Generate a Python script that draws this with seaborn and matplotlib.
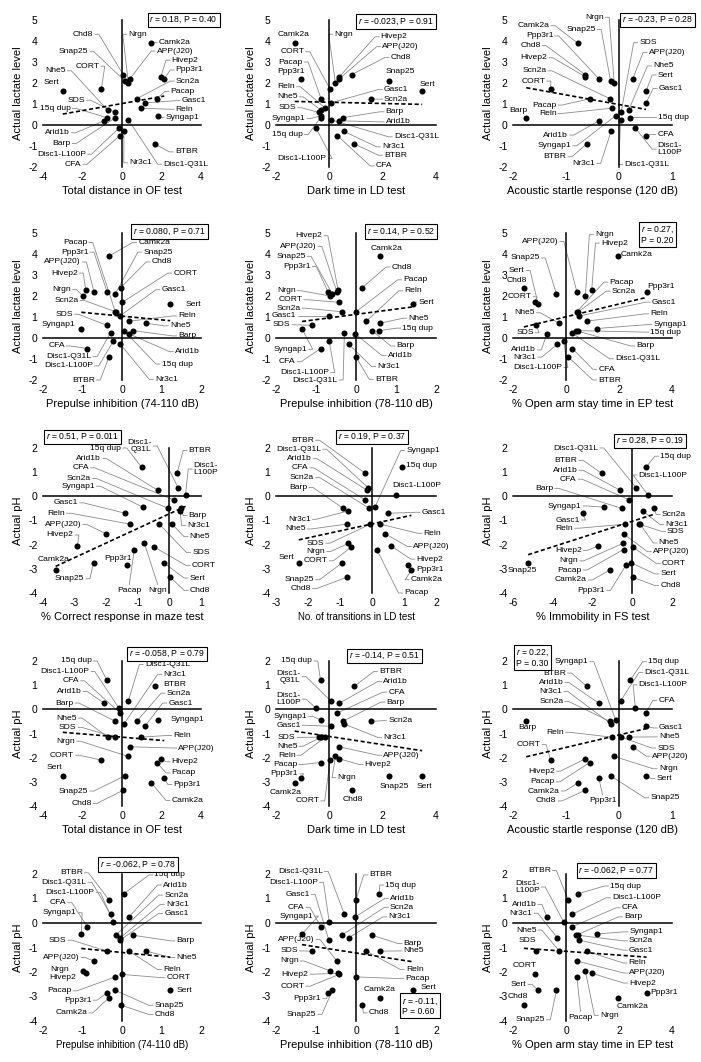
import numpy as np
import pandas as pd
import matplotlib
matplotlib.use("Agg")
import matplotlib.pyplot as plt
import seaborn as sns

# ---------------- data ----------------
STRAINS = ["15q dup", "APP(J20)", "Arid1b", "BTBR", "Barp", "CFA", "CORT", "Camk2a",
           "Chd8", "Disc1-L100P", "Disc1-Q31L", "Gasc1", "Hivep2", "Nhe5", "Nr3c1",
           "Nrgn", "Pacap", "Ppp3r1", "Reln", "SDS", "Scn2a", "Sert", "Snap25", "Syngap1"]

LACTATE = [0.35, 2.2, 0.2, -0.9, 0.35, -0.5, 1.7, 3.9, 2.4, -0.15, 0.25, 1.05, 2.3, 0.7,
           -0.3, 2.0, 1.25, 2.2, 0.8, 0.6, 1.25, 1.6, 2.1, 0.45]
PH = [1.2, -1.55, 0.25, 0.95, -0.5, -0.15, -2.1, -3.05, -3.35, 0.05, 0.35, -0.7, -2.05,
      -1.15, -0.6, -1.95, -2.2, -2.85, -1.15, -1.15, -0.5, -2.75, -2.75, -0.45]

OF_DIST = [-0.77, 0.4, -0.9, 1.65, -0.33, -0.1, -1.05, 1.49, 0.06, -0.16, 0.32, 1.16, 1.97,
           -0.72, 0.1, 0.32, 1.76, 2.14, 0.98, -0.35, 0.74, -3.0, 0.14, 1.81]
LD_DARK = [-0.33, 0.37, 0.37, 0.93, 0.5, 0.3, 0.03, -1.3, 0.84, -0.5, 0.05, 0.05, 0.38,
           -0.3, 0.54, 0.23, -0.31, -1.07, -0.15, -0.4, 1.55, 3.48, 2.25, -0.3]
ASR = [0.21, 0.26, -0.38, -0.61, -1.75, 0.51, -1.29, -0.78, -0.64, 0.31, 0.03, 0.51, -0.64,
       0.18, -0.15, -0.09, -0.55, -0.38, -0.14, 0.04, -0.17, 0.51, -0.16, -0.06]
PPI74 = [0.05, -0.71, 0.18, -0.33, 0.28, -0.88, 0.01, -0.33, -0.03, -0.22, -0.29, -0.05,
         -0.92, 0.62, -0.04, -0.99, -0.17, -0.38, 0.18, -0.38, -0.16, 1.22, -0.17, -1.03]
PPI78 = [0.58, -0.48, -0.02, 0.0, 0.4, -0.88, -0.42, 0.59, 0.16, -0.67, -0.29, -0.68, -0.45,
         0.59, -0.18, -0.65, 0.0, -0.7, 0.26, -1.11, -0.36, 1.43, -0.59, -1.35]
EP_OPEN = [0.47, 0.41, -0.72, 0.08, 0.38, 0.24, -1.18, 1.98, -1.59, -0.09, 0.22, 0.5, 0.97,
           -0.25, -0.33, 0.73, 0.41, 3.04, 0.78, -1.12, 0.47, -1.05, -0.36, 1.16]
MAZE = [-0.88, -2.0, -0.37, 0.24, 0.38, 0.14, -0.48, -3.6, 0.03, 0.51, 0.28, -1.4, -2.91,
        0.08, 0.34, -0.79, -1.11, -1.34, -1.24, -0.32, -0.03, -0.18, -2.4, -0.84]
LD_TRANS = [0.93, 0.41, -0.15, -0.21, -0.9, -0.21, -0.65, 1.23, -0.79, 0.75, -0.12, 0.49,
            0.59, -0.79, -0.74, -0.74, 0.15, 1.13, 0.25, -0.05, -0.08, -2.29, -0.93, 0.09]
FS_IMMOB = [0.7, -0.44, -0.61, -1.54, -0.53, -0.14, 0.03, -1.12, 0.03, 0.79, 0.2, -2.5, -1.7,
            0.4, 0.52, -0.48, -0.44, -0.32, -0.36, 0.35, 1.07, -0.05, -5.24, -1.4]

TESTS = {
    "OF": (OF_DIST, "Total distance in OF test", (-4, 4), [-4, -2, 0, 2, 4]),
    "LDD": (LD_DARK, "Dark time in LD test", (-2, 4), [-2, 0, 2, 4]),
    "ASR": (ASR, "Acoustic startle response (120 dB)", (-2, 1), [-2, -1, 0, 1]),
    "PPI74": (PPI74, "Prepulse inhibition (74-110 dB)", (-2, 2), [-2, -1, 0, 1, 2]),
    "PPI78": (PPI78, "Prepulse inhibition (78-110 dB)", (-2, 2), [-2, -1, 0, 1, 2]),
    "EP": (EP_OPEN, "% Open arm stay time in EP test", (-2, 4), [-2, 0, 2, 4]),
    "MAZE": (MAZE, "% Correct response in maze test", (-4, 1), [-4, -3, -2, -1, 0, 1]),
    "LDT": (LD_TRANS, "No. of transitions in LD test", (-3, 2), [-3, -2, -1, 0, 1, 2]),
    "FS": (FS_IMMOB, "% Immobility in FS test", (-6, 2), [-6, -4, -2, 0, 2]),
}
RESPONSES = {
    "lac": (LACTATE, "Actual lactate level", (-2, 5), [-2, -1, 0, 1, 2, 3, 4, 5]),
    "ph": (PH, "Actual pH", (-4, 2), [-4, -3, -2, -1, 0, 1, 2]),
}
PANELS = ["OF", "LDD", "ASR", "PPI74", "PPI78", "EP", "MAZE", "LDT", "FS",
          "OF", "LDD", "ASR", "PPI74", "PPI78", "EP"]
PANEL_Y = ["lac"] * 6 + ["ph"] * 9
STATS = ["$r$ = 0.18, P = 0.40", "$r$ = -0.023, P = 0.91", "$r$ = -0.23, P = 0.28",
         "$r$ = 0.080, P = 0.71", "$r$ = 0.14, P = 0.52", "$r$ = 0.27,\nP = 0.20",
         "$r$ = 0.51, P = 0.011", "$r$ = 0.19, P = 0.37", "$r$ = 0.28, P = 0.19",
         "$r$ = -0.058, P = 0.79", "$r$ = -0.14, P = 0.51", "$r$ = 0.22,\nP = 0.30",
         "$r$ = -0.062, P = 0.78", "$r$ = -0.11,\nP = 0.60", "$r$ = -0.062, P = 0.77"]

# ---------------- layout (annotation placement) ----------------
STATS_POS = [(0.89, 1.0), (0.75, 0.99), (0.91, 1.0), (0.80, 1.01), (0.78, 1.01),
             (0.91, 0.986), (0.25, 1.076), (0.60, 1.076), (0.86, 1.048), (0.785, 1.05),
             (0.68, 1.034), (0.12, 1.02), (0.60, 1.065), (0.90, 0.10), (0.65, 1.024)]

TEXT_OVERRIDE = {
    2: {"Disc1-L100P": "Disc1-\nL100P"},
    6: {"Disc1-Q31L": "Disc1-\nQ31L", "Disc1-L100P": "Disc1-\nL100P"},
    10: {"Disc1-Q31L": "Disc1-\nQ31L", "Disc1-L100P": "Disc1-\nL100P"},
    14: {"Disc1-L100P": "Disc1-\nL100P", "Disc1-Q31L": "Disc1-L100P"},
}

LAYOUTS = [
    {  # 1
        "Chd8": (-1.45, 4.32, "L"), "Snap25": (-1.7, 3.49, "L"), "CORT": (-1.15, 2.8, "L"),
        "Nhe5": (-2.84, 2.58, "L"), "Sert": (-3.55, 2.0, "N"), "SDS": (-1.87, 1.18, "L"),
        "15q dup": (-2.6, 0.79, "L"), "Arid1b": (-2.63, -0.37, "L"), "Barp": (-2.6, -0.88, "L"),
        "Disc1-L100P": (-1.82, -1.39, "L"), "CFA": (-2.05, -1.87, "L"),
        "Nrgn": (0.32, 4.32, "R"), "Camk2a": (1.86, 3.92, "R"), "APP(J20)": (1.76, 3.52, "R"),
        "Hivep2": (2.51, 3.09, "R"), "Ppp3r1": (2.72, 2.62, "R"), "Scn2a": (2.72, 2.09, "R"),
        "Pacap": (2.46, 1.6, "R"), "Gasc1": (3.02, 1.16, "R"), "Reln": (2.72, 0.75, "R"),
        "Syngap1": (2.21, 0.36, "R"), "BTBR": (2.68, -1.28, "R"), "Nr3c1": (0.37, -1.8, "R"),
        "Disc1-Q31L": (2.09, -1.87, "R"),
    },
    {  # 2
        "Camk2a": (-1.34, 4.32, "N"), "CORT": (-0.94, 3.49, "L"), "Pacap": (-1.0, 3.0, "L"),
        "Ppp3r1": (-1.45, 2.55, "N"), "Reln": (-1.29, 1.82, "L"), "Nhe5": (-1.19, 1.34, "L"),
        "SDS": (-1.25, 0.82, "L"), "Syngap1": (-0.9, 0.31, "L"), "15q dup": (-1.0, -0.45, "L"),
        "Disc1-L100P": (-0.1, -1.6, "L"),
        "Nrgn": (0.18, 4.32, "R"), "Hivep2": (1.92, 4.2, "R"), "APP(J20)": (1.98, 3.73, "R"),
        "Chd8": (2.3, 3.22, "R"), "Snap25": (2.67, 2.54, "N"), "Sert": (3.69, 1.95, "N"),
        "Gasc1": (2.05, 1.69, "R"), "Scn2a": (2.05, 1.23, "R"), "Barp": (2.11, 0.63, "R"),
        "Arid1b": (2.11, 0.15, "R"), "Disc1-Q31L": (2.42, -0.56, "R"), "Nr3c1": (1.98, -1.04, "R"),
        "BTBR": (2.05, -1.44, "R"), "CFA": (1.74, -1.95, "R"),
    },
    {  # 3
        "Nrgn": (-0.29, 5.13, "L"), "Camk2a": (-1.31, 4.73, "L"), "Snap25": (-0.44, 4.55, "L"),
        "Ppp3r1": (-1.24, 4.24, "L"), "Chd8": (-1.48, 3.78, "L"), "Hivep2": (-1.35, 3.2, "L"),
        "Scn2a": (-1.37, 2.58, "L"), "CORT": (-1.39, 2.09, "L"), "Pacap": (-1.18, 0.95, "L"),
        "Reln": (-1.18, 0.55, "L"), "Barp": (-1.9, 0.71, "N"), "Arid1b": (-0.96, -0.48, "L"),
        "Syngap1": (-0.9, -0.99, "L"), "BTBR": (-0.99, -1.51, "L"), "Nr3c1": (-0.45, -1.83, "L"),
        "SDS": (0.38, 3.92, "R"), "APP(J20)": (0.56, 3.46, "R"), "Nhe5": (0.64, 2.81, "R"),
        "Sert": (0.73, 2.38, "R"), "Gasc1": (0.75, 1.74, "R"), "15q dup": (0.74, 0.36, "R"),
        "CFA": (0.72, -0.45, "R"), "Disc1-L100P": (0.73, -1.15, "R"),
        "Disc1-Q31L": (0.1, -1.88, "R"),
    },
    {  # 4
        "Pacap": (-0.88, 4.55, "L"), "Ppp3r1": (-0.85, 4.09, "L"), "APP(J20)": (-1.04, 3.62, "L"),
        "Hivep2": (-1.12, 3.09, "L"), "Nrgn": (-1.29, 2.3, "L"), "Scn2a": (-1.1, 1.79, "L"),
        "SDS": (-1.24, 1.13, "L"), "Syngap1": (-1.6, 0.62, "N"), "CFA": (-1.45, -0.38, "L"),
        "Disc1-Q31L": (-0.77, -0.89, "L"), "Disc1-L100P": (-0.73, -1.33, "L"),
        "BTBR": (-0.69, -2.0, "L"),
        "Camk2a": (0.41, 4.55, "R"), "Snap25": (0.54, 4.09, "R"), "Chd8": (0.75, 3.62, "R"),
        "CORT": (1.3, 3.09, "R"), "Gasc1": (1.0, 2.3, "R"), "Sert": (1.8, 1.6, "N"),
        "Reln": (1.42, 1.05, "R"), "Nhe5": (1.21, 0.58, "R"), "Barp": (1.42, 0.1, "R"),
        "Arid1b": (1.34, -0.65, "R"), "15q dup": (1.0, -1.24, "R"), "Nr3c1": (0.83, -1.97, "R"),
    },
    {  # 5
        "Hivep2": (-0.84, 4.87, "L"), "APP(J20)": (-0.99, 4.36, "L"), "Snap25": (-1.26, 3.89, "L"),
        "Ppp3r1": (-1.13, 3.41, "L"), "Nrgn": (-1.51, 2.25, "L"), "CORT": (-1.34, 1.82, "L"),
        "Scn2a": (-1.39, 1.42, "L"), "Gasc1": (-1.49, 1.05, "L"), "SDS": (-1.64, 0.63, "L"),
        "Syngap1": (-1.22, -0.54, "L"), "CFA": (-1.51, -1.13, "L"),
        "Disc1-L100P": (-0.67, -1.65, "L"), "Disc1-Q31L": (-0.46, -2.0, "L"),
        "Camk2a": (0.76, 4.25, "N"), "Chd8": (0.89, 3.38, "R"), "Pacap": (1.18, 2.77, "R"),
        "Reln": (1.21, 2.25, "R"), "Sert": (1.56, 1.71, "R"), "Nhe5": (1.31, 0.94, "R"),
        "15q dup": (1.16, 0.47, "R"), "Barp": (1.01, -0.38, "R"), "Arid1b": (0.79, -0.84, "R"),
        "Nr3c1": (0.53, -1.36, "R"), "BTBR": (0.47, -1.97, "R"),
    },
    {  # 6
        "APP(J20)": (-0.29, 4.6, "L"), "Snap25": (-0.99, 3.81, "L"), "Sert": (-1.56, 3.21, "L"),
        "Chd8": (-1.85, 2.73, "N"), "CORT": (-1.3, 1.96, "L"), "Nhe5": (-1.18, 1.2, "L"),
        "SDS": (-1.22, 0.25, "L"), "Arid1b": (-1.14, -0.57, "L"), "Nr3c1": (-1.12, -0.91, "L"),
        "Disc1-L100P": (-0.14, -1.41, "L"),
        "Nrgn": (1.09, 4.92, "R"), "Hivep2": (1.32, 4.52, "R"), "Camk2a": (2.67, 3.97, "N"),
        "Pacap": (1.64, 2.66, "R"), "Scn2a": (1.73, 2.23, "R"), "Ppp3r1": (3.58, 2.47, "N"),
        "Gasc1": (3.24, 1.71, "R"), "Reln": (3.18, 1.15, "R"), "Syngap1": (3.3, 0.64, "R"),
        "15q dup": (3.18, 0.28, "R"), "Barp": (2.65, -0.38, "R"), "Disc1-Q31L": (1.85, -0.99, "R"),
        "CFA": (1.22, -1.49, "R"), "BTBR": (1.22, -2.0, "R"),
    },
    {  # 7
        "15q dup": (-1.52, 2.0, "L"), "Arid1b": (-2.16, 1.56, "L"), "CFA": (-2.54, 1.18, "L"),
        "Scn2a": (-2.49, 0.74, "L"), "Syngap1": (-2.36, 0.42, "L"), "Gasc1": (-2.89, -0.27, "L"),
        "Reln": (-3.3, -0.7, "L"), "APP(J20)": (-2.79, -1.16, "L"), "Hivep2": (-3.04, -1.6, "L"),
        "Camk2a": (-3.65, -2.6, "N"), "Snap25": (-2.69, -3.41, "L"), "Ppp3r1": (-1.62, -2.56, "N"),
        "Pacap": (-1.27, -3.9, "B"), "Nrgn": (-0.37, -3.9, "B"), "Disc1-Q31L": (-0.56, 2.08, "L"),
        "BTBR": (0.61, 1.9, "R"), "Disc1-L100P": (0.77, 1.13, "R"), "Barp": (0.61, -0.8, "R"),
        "Nr3c1": (0.56, -1.21, "R"), "Nhe5": (0.64, -1.67, "R"), "SDS": (0.72, -2.33, "R"),
        "CORT": (0.7, -2.86, "R"), "Sert": (0.64, -3.38, "R"), "Chd8": (0.64, -3.89, "R"),
    },
    {  # 8
        "BTBR": (-1.81, 2.32, "L"), "Disc1-Q31L": (-1.59, 1.95, "L"), "Arid1b": (-1.89, 1.56, "L"),
        "CFA": (-1.99, 1.18, "L"), "Scn2a": (-1.81, 0.78, "L"), "Barp": (-2.02, 0.37, "L"),
        "Nr3c1": (-1.91, -0.95, "L"), "Nhe5": (-2.07, -1.35, "L"), "SDS": (-1.49, -1.94, "L"),
        "Nrgn": (-1.46, -2.28, "L"), "Sert": (-2.67, -2.53, "N"), "CORT": (-1.38, -2.67, "L"),
        "Snap25": (-1.81, -3.45, "L"), "Chd8": (-1.91, -3.82, "L"),
        "Syngap1": (1.07, 1.9, "R"), "15q dup": (1.53, 1.29, "N"), "Disc1-L100P": (1.39, 0.46, "N"),
        "Gasc1": (1.55, -0.66, "R"), "Reln": (1.61, -1.53, "R"), "APP(J20)": (1.29, -2.08, "R"),
        "Hivep2": (1.39, -2.6, "R"), "Ppp3r1": (1.39, -3.04, "R"), "Camk2a": (1.21, -3.45, "R"),
        "Pacap": (1.0, -4.0, "R"),
    },
    {  # 9
        "Disc1-Q31L": (-1.71, 2.0, "L"), "BTBR": (-2.75, 1.49, "L"), "Arid1b": (-2.75, 1.08, "L"),
        "CFA": (-2.8, 0.71, "L"), "Barp": (-3.98, 0.33, "L"), "Syngap1": (-2.55, -0.4, "L"),
        "Gasc1": (-2.63, -0.98, "L"), "Reln": (-2.97, -1.32, "L"), "Hivep2": (-2.55, -2.24, "L"),
        "Nrgn": (-2.72, -2.67, "L"), "Pacap": (-2.55, -3.05, "L"), "Camk2a": (-2.29, -3.46, "L"),
        "Ppp3r1": (-1.37, -3.89, "L"), "Snap25": (-5.55, -3.05, "N"),
        "15q dup": (1.41, 1.66, "R"), "Disc1-L100P": (0.32, 0.88, "R"), "Scn2a": (1.49, -0.75, "R"),
        "Nr3c1": (1.66, -1.16, "R"), "SDS": (1.75, -1.45, "R"), "Nhe5": (1.33, -1.93, "R"),
        "APP(J20)": (1.04, -2.29, "R"), "CORT": (1.49, -2.78, "R"), "Sert": (1.41, -3.21, "R"),
        "Chd8": (1.41, -3.69, "R"),
    },
    {  # 10
        "15q dup": (-1.54, 2.0, "L"), "Disc1-L100P": (-1.65, 1.56, "L"), "CFA": (-2.18, 1.18, "L"),
        "Arid1b": (-2.04, 0.74, "L"), "Barp": (-2.46, 0.26, "L"), "Nhe5": (-2.3, -0.36, "L"),
        "SDS": (-2.3, -0.75, "L"), "Nrgn": (-2.38, -1.32, "L"), "CORT": (-2.43, -1.9, "L"),
        "Sert": (-3.44, -2.42, "N"), "Snap25": (-1.7, -3.38, "L"), "Chd8": (-1.54, -3.89, "L"),
        "Disc1-Q31L": (1.16, 1.86, "R"), "Nr3c1": (2.09, 1.45, "R"), "BTBR": (2.67, 1.01, "N"),
        "Scn2a": (2.26, 0.67, "R"), "Gasc1": (2.34, 0.26, "R"), "Syngap1": (3.31, -0.43, "N"),
        "Reln": (2.6, -1.08, "R"), "APP(J20)": (2.85, -1.6, "R"), "Hivep2": (2.51, -2.17, "R"),
        "Pacap": (2.51, -2.63, "R"), "Ppp3r1": (2.6, -3.11, "R"), "Camk2a": (2.51, -3.77, "R"),
    },
    {  # 11
        "15q dup": (-0.64, 2.0, "L"), "Disc1-Q31L": (-1.08, 1.35, "L"),
        "Disc1-L100P": (-1.08, 0.42, "L"), "Syngap1": (-0.83, -0.29, "L"),
        "Gasc1": (-1.08, -0.66, "L"), "SDS": (-1.27, -1.16, "L"), "Nhe5": (-1.2, -1.53, "L"),
        "Reln": (-1.27, -1.9, "L"), "Pacap": (-1.2, -2.28, "L"), "Ppp3r1": (-1.17, -2.67, "L"),
        "Camk2a": (-1.63, -3.45, "N"), "CORT": (-0.38, -3.79, "L"),
        "BTBR": (1.87, 1.56, "R"), "Arid1b": (2.02, 1.15, "R"), "CFA": (2.21, 0.71, "R"),
        "Barp": (2.14, 0.3, "R"), "Scn2a": (2.21, -0.47, "R"), "Nr3c1": (2.02, -1.16, "R"),
        "APP(J20)": (2.02, -1.9, "R"), "Hivep2": (1.32, -2.28, "R"), "Nrgn": (0.31, -2.83, "R"),
        "Chd8": (0.88, -3.73, "N"), "Snap25": (2.42, -3.18, "N"), "Sert": (3.57, -3.18, "N"),
    },
    {  # 12
        "Syngap1": (-0.58, 1.97, "L"), "BTBR": (-1.0, 1.5, "L"), "Arid1b": (-1.05, 1.11, "L"),
        "Nr3c1": (-1.07, 0.74, "L"), "Scn2a": (-1.05, 0.32, "L"), "Barp": (-1.73, -0.75, "N"),
        "Reln": (-1.04, -0.95, "L"), "CORT": (-1.48, -1.46, "L"), "Hivep2": (-1.21, -2.56, "L"),
        "Pacap": (-1.22, -3.0, "L"), "Camk2a": (-1.12, -3.38, "L"), "Chd8": (-1.18, -3.79, "L"),
        "Ppp3r1": (-0.31, -3.79, "B"),
        "15q dup": (0.55, 1.97, "R"), "Disc1-Q31L": (0.48, 1.52, "R"),
        "Disc1-L100P": (0.37, 1.01, "R"), "CFA": (0.74, 0.37, "R"), "Gasc1": (0.75, -0.77, "R"),
        "Nhe5": (0.75, -1.14, "R"), "SDS": (0.72, -1.6, "R"), "APP(J20)": (0.62, -1.94, "R"),
        "Nrgn": (0.75, -2.46, "R"), "Sert": (0.7, -2.86, "R"), "Snap25": (0.59, -3.66, "R"),
    },
    {  # 13
        "BTBR": (-0.99, 2.05, "L"), "Disc1-Q31L": (-0.9, 1.66, "L"),
        "Disc1-L100P": (-0.69, 1.25, "L"), "CFA": (-1.41, 0.83, "L"), "Syngap1": (-1.15, 0.42, "L"),
        "SDS": (-1.41, -0.7, "L"), "APP(J20)": (-1.07, -1.41, "L"), "Nrgn": (-1.58, -1.9, "N"),
        "Hivep2": (-1.5, -2.23, "N"), "Pacap": (-1.28, -2.77, "L"), "Ppp3r1": (-0.77, -3.15, "L"),
        "Camk2a": (-0.88, -3.67, "L"),
        "15q dup": (0.82, 1.96, "R"), "Arid1b": (1.04, 1.55, "R"), "Scn2a": (1.07, 1.14, "R"),
        "Nr3c1": (1.11, 0.76, "R"), "Gasc1": (1.07, 0.39, "R"), "Barp": (1.38, -0.73, "R"),
        "Nhe5": (1.38, -1.41, "R"), "Reln": (1.04, -1.9, "R"), "CORT": (1.13, -2.23, "R"),
        "Sert": (1.59, -2.77, "N"), "Snap25": (0.82, -3.36, "R"), "Chd8": (0.83, -3.74, "R"),
    },
    {  # 14
        "Disc1-Q31L": (-0.83, 2.1, "L"), "Disc1-L100P": (-0.95, 1.65, "L"),
        "Gasc1": (-1.16, 1.17, "L"), "CFA": (-1.29, 0.64, "L"), "Syngap1": (-1.08, 0.28, "L"),
        "APP(J20)": (-1.04, -0.67, "L"), "SDS": (-1.45, -1.14, "L"), "Nrgn": (-1.44, -1.55, "L"),
        "Hivep2": (-1.19, -2.09, "L"), "CORT": (-1.29, -2.58, "L"), "Ppp3r1": (-0.87, -3.09, "L"),
        "Snap25": (-0.99, -3.73, "L"),
        "BTBR": (0.33, 1.96, "R"), "15q dup": (0.73, 1.55, "R"), "Arid1b": (0.85, 1.0, "R"),
        "Scn2a": (0.85, 0.64, "R"), "Nr3c1": (0.81, 0.25, "R"), "Barp": (1.19, -0.84, "R"),
        "Nhe5": (1.19, -1.14, "R"), "Reln": (1.25, -1.9, "R"), "Pacap": (1.23, -2.27, "R"),
        "Camk2a": (0.6, -2.7, "N"), "Sert": (1.8, -2.65, "N"), "Chd8": (0.32, -3.67, "R"),
    },
    {  # 15
        "BTBR": (-0.57, 2.14, "L"), "Disc1-L100P": (-0.99, 1.47, "L"), "Arid1b": (-1.12, 0.76, "L"),
        "Nr3c1": (-1.27, 0.4, "L"), "Nhe5": (-1.12, -0.29, "L"), "SDS": (-1.47, -0.73, "N"),
        "CORT": (-1.55, -1.72, "N"), "Sert": (-1.49, -2.51, "L"), "Chd8": (-1.8, -2.99, "N"),
        "Snap25": (-0.8, -3.95, "L"), "Pacap": (0.55, -3.86, "B"), "Nrgn": (1.28, -3.77, "R"),
        "15q dup": (1.66, 1.51, "R"), "Disc1-Q31L": (1.73, 1.03, "R"), "CFA": (2.1, 0.62, "R"),
        "Barp": (2.19, 0.25, "R"), "Syngap1": (2.4, -0.36, "R"), "Scn2a": (2.38, -0.73, "R"),
        "Gasc1": (2.38, -1.11, "R"), "Reln": (2.36, -1.63, "R"), "APP(J20)": (2.38, -2.04, "R"),
        "Hivep2": (2.38, -2.45, "R"), "Ppp3r1": (3.71, -2.85, "N"), "Camk2a": (2.51, -3.39, "N"),
    },
]

# ---------------- styling ----------------
sns.set_theme(context="paper", style="white")
plt.rcParams["font.family"] = ["Liberation Sans", "DejaVu Sans"]
plt.rcParams["axes.unicode_minus"] = False
plt.rcParams["mathtext.fontset"] = "custom"
plt.rcParams["mathtext.it"] = "Liberation Sans:italic"
plt.rcParams["mathtext.rm"] = "Liberation Sans"

W, H = 701, 1062
fig = plt.figure(figsize=(W / 100, H / 100), dpi=100)
COL_L = [43, 276, 513]
COL_W = [158, 160, 159]
ROW_T = [20, 233, 448, 661, 874]
ROW_H = [147, 147, 145, 145, 147]

LABEL_FS = 6.1
GAP_PX, STUB_PX = 1.5, 4.0

for i in range(15):
    r, c = divmod(i, 3)
    xvals, xlabel, xlim, xticks = TESTS[PANELS[i]]
    yvals, ylabel, ylim, yticks = RESPONSES[PANEL_Y[i]]
    wpx, hpx = COL_W[c], ROW_H[r]
    ax = fig.add_axes([COL_L[c] / W, (H - ROW_T[r] - hpx) / H, wpx / W, hpx / H])
    ax.patch.set_visible(False)

    df = pd.DataFrame({"strain": STRAINS, "x": xvals, "y": yvals})
    sns.scatterplot(data=df, x="x", y="y", ax=ax, color="black", s=19, linewidth=0,
                    legend=False, zorder=5, clip_on=False)
    ax.set_xlabel("")
    ax.set_ylabel("")

    # regression line
    slope, icpt = np.polyfit(df["x"], df["y"], 1)
    xs = np.array([df["x"].min(), df["x"].max()])
    ax.plot(xs, slope * xs + icpt, color="black", lw=1.2, ls=(0, (2.5, 1.5)), zorder=3)

    ax.set_xlim(*xlim)
    ax.set_ylim(*ylim)
    ux = (xlim[1] - xlim[0]) / wpx
    uy = (ylim[1] - ylim[0]) / hpx

    # crossing axes at zero
    for s in ("top", "right"):
        ax.spines[s].set_visible(False)
    for s in ("left", "bottom"):
        ax.spines[s].set_position(("data", 0))
        ax.spines[s].set_color("black")
        ax.spines[s].set_linewidth(1.1)
        ax.spines[s].set_zorder(4)
    ax.set_xticks(xticks)
    ax.set_yticks(yticks)
    ax.tick_params(direction="inout", length=5, width=1.0, color="black",
                   labelleft=False, labelbottom=False)

    sx = ax.secondary_xaxis("bottom")
    sx.set_xticks(xticks)
    sx.tick_params(length=0, pad=3.5, labelsize=7.5, labelcolor="black")
    sx.spines["bottom"].set_visible(False)
    sx.set_xlabel(xlabel, fontsize=7.0 if i in (7, 12) else 8.0, labelpad=3, color="black")

    sy = ax.secondary_yaxis("left")
    sy.set_yticks(yticks)
    sy.tick_params(length=0, pad=4, labelsize=7.5, labelcolor="black")
    sy.spines["left"].set_visible(False)
    sy.set_ylabel(ylabel, fontsize=8.0, labelpad=4, color="black")

    # strain labels with leader lines
    over = TEXT_OVERRIDE.get(i, {})
    for name, (lx, ly, mode) in LAYOUTS[i].items():
        j = STRAINS.index(name)
        px, py = xvals[j], yvals[j]
        txt = over.get(name, name)
        nlines = txt.count("\n") + 1
        if mode == "L":
            ax.text(lx, ly, txt, ha="right", va="center", fontsize=LABEL_FS, color="black",
                    linespacing=1.0, clip_on=False, zorder=6)
            seg = [(lx + GAP_PX * ux, ly), (lx + (GAP_PX + STUB_PX) * ux, ly), (px, py)]
        elif mode == "R":
            ax.text(lx, ly, txt, ha="left", va="center", fontsize=LABEL_FS, color="black",
                    linespacing=1.0, clip_on=False, zorder=6)
            seg = [(lx - GAP_PX * ux, ly), (lx - (GAP_PX + STUB_PX) * ux, ly), (px, py)]
        elif mode == "B":
            ax.text(lx, ly, txt, ha="center", va="center", fontsize=LABEL_FS, color="black",
                    linespacing=1.0, clip_on=False, zorder=6)
            top = ly + (4.5 * nlines + GAP_PX) * uy
            seg = [(lx, top), (px, py)]
        else:
            ax.text(lx, ly, txt, ha="center", va="center", fontsize=LABEL_FS, color="black",
                    linespacing=1.0, clip_on=False, zorder=6)
            seg = None
        if seg is not None:
            sxs, sys_ = zip(*seg)
            ax.plot(sxs, sys_, color="0.55", lw=0.6, clip_on=False, zorder=2)

    # statistics box
    fx, fy = STATS_POS[i]
    ax.text(fx, fy, STATS[i], transform=ax.transAxes, ha="center", va="center",
            fontsize=6.2, color="black", multialignment="left", linespacing=1.1,
            clip_on=False, zorder=7,
            bbox=dict(boxstyle="square,pad=0.22", fc="white", ec="black", lw=0.8))

fig.savefig("out.png", dpi=100)
